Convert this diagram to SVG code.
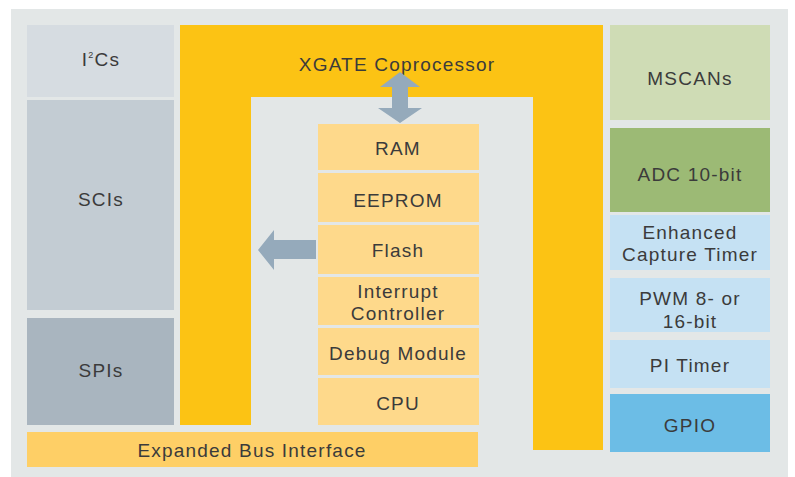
<svg xmlns="http://www.w3.org/2000/svg" width="795" height="477" viewBox="0 0 795 477">
<style>
text{font-family:"Liberation Sans",Arial,sans-serif;font-size:19px;fill:#3b3b3b;text-anchor:middle;letter-spacing:1.2px}
.mem{fill:#fed98b}
.blue{fill:#c5e1f3}
.arrow{fill:#95aabb}
</style>
<rect x="0" y="0" width="795" height="477" fill="#ffffff"/>
<rect x="11" y="9" width="777" height="468" fill="#e3e7e7"/>
<g id="i2c"><rect x="27" y="25" width="147" height="72" fill="#d6dce1"/><text x="101" y="66">I<tspan font-size="9" dy="-8">2</tspan><tspan dy="8">Cs</tspan></text></g>
<g id="sci"><rect x="27" y="100" width="147" height="210" fill="#c3ccd3"/><text x="101" y="206">SCIs</text></g>
<g id="spi"><rect x="27" y="318" width="147" height="107" fill="#a9b5bf"/><text x="101" y="377">SPIs</text></g>
<g id="xgate"><path d="M180,25 H603 V450 H533 V97 H251 V425 H180 Z" fill="#fcc314"/><text x="397" y="71">XGATE Coprocessor</text></g>
<g id="ram"><rect class="mem" x="318" y="124" width="161" height="46"/><text x="398" y="155">RAM</text></g>
<g id="eeprom"><rect class="mem" x="318" y="173" width="161" height="49"/><text x="398" y="207">EEPROM</text></g>
<g id="flash"><rect class="mem" x="318" y="225" width="161" height="49"/><text x="398" y="257">Flash</text></g>
<g id="interrupt"><rect class="mem" x="318" y="277" width="161" height="48"/><text x="398" y="298">Interrupt</text><text x="398" y="320">Controller</text></g>
<g id="debug"><rect class="mem" x="318" y="328" width="161" height="47"/><text x="398" y="360">Debug Module</text></g>
<g id="cpu"><rect class="mem" x="318" y="378" width="161" height="47"/><text x="398" y="410">CPU</text></g>
<g id="bus"><rect x="27" y="432" width="451" height="35" fill="#fecf66"/><text x="252" y="457">Expanded Bus Interface</text></g>
<g id="mscan"><rect x="610" y="25" width="160" height="95" fill="#cfdcb5"/><text x="690" y="85">MSCANs</text></g>
<g id="adc"><rect x="610" y="128" width="160" height="84" fill="#9cba75"/><text x="690" y="181">ADC 10-bit</text></g>
<g id="ect"><rect class="blue" x="610" y="215" width="160" height="55"/><text x="690" y="239">Enhanced</text><text x="690" y="261">Capture Timer</text></g>
<g id="pwm"><rect class="blue" x="610" y="278" width="160" height="54"/><text x="690" y="305">PWM 8- or</text><text x="690" y="328">16-bit</text></g>
<g id="pit"><rect class="blue" x="610" y="340" width="160" height="48"/><text x="690" y="372">PI Timer</text></g>
<g id="gpio"><rect x="610" y="394" width="160" height="58" fill="#6cbde6"/><text x="690" y="432">GPIO</text></g>
<g id="connectors">
<polygon class="arrow" points="400,72 420,87 408,87 408,108 422,108 400,123 378,108 392,108 392,87 380,87"/>
<polygon class="arrow" points="258,250 274,230 274,240 316,240 316,259 274,259 274,270"/>
</g>
</svg>
